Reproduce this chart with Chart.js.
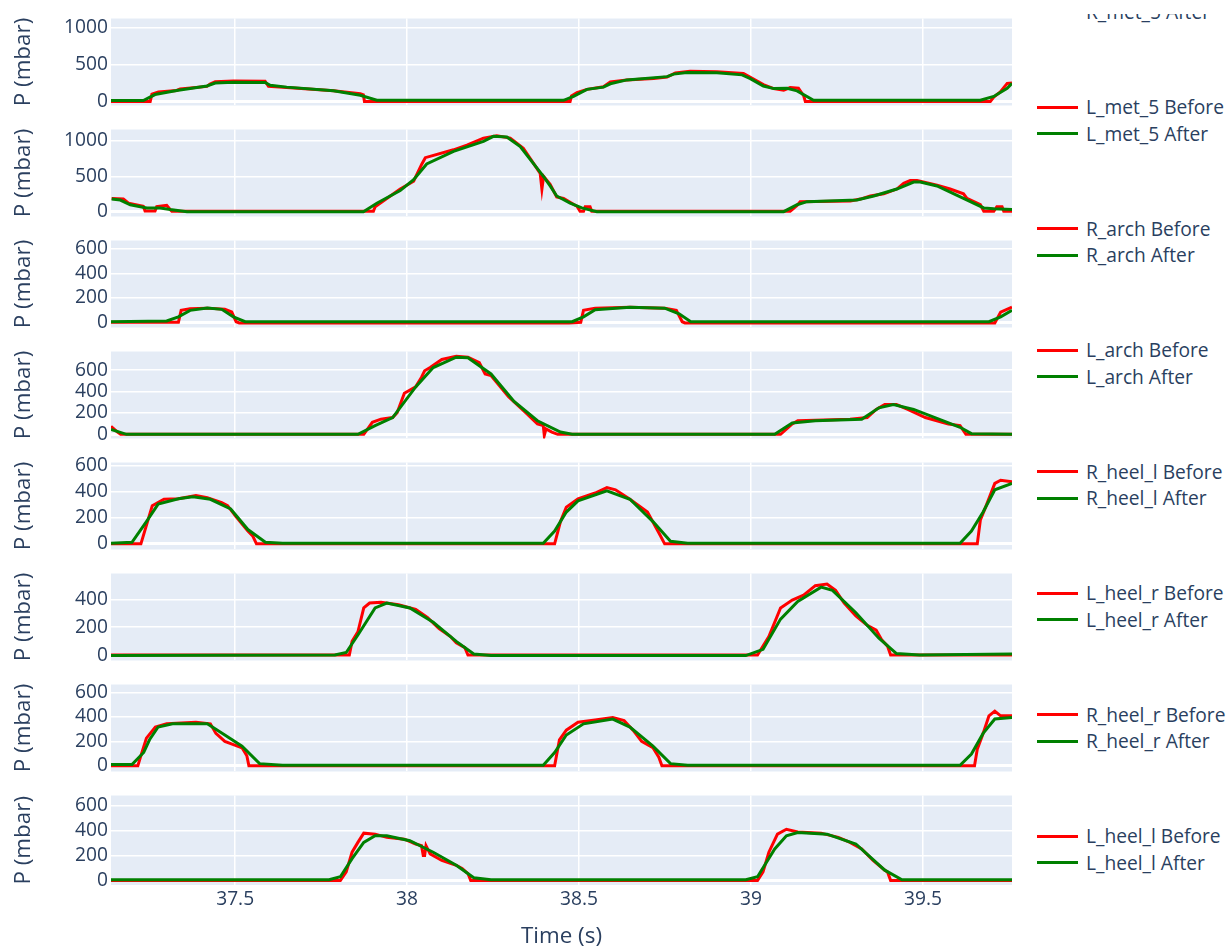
<!DOCTYPE html>
<html>
<head>
<meta charset="utf-8">
<script src="https://cdn.jsdelivr.net/npm/chart.js@4.4.0/dist/chart.umd.min.js"></script>
<style>
body{margin:0;background:#fff;width:1229px;height:946px;overflow:hidden;position:relative;font-family:"Open Sans",sans-serif;}
canvas{position:absolute;left:0;}
#legend{position:absolute;left:1030px;top:14px;width:199px;height:932px;overflow:hidden;}
.swatch{position:absolute;left:7px;width:41px;height:3px;}
.lab{position:absolute;left:56px;height:26px;line-height:26px;font-size:19.2px;color:#2a3f5f;white-space:nowrap;}
</style>
</head>
<body>
<div id="legend"></div>
<script>
// sensors shown top to bottom
const sensors = ['R_met_5','L_met_5','R_arch','L_arch','R_heel_l','L_heel_r','R_heel_r','L_heel_l']
const timeTicks = [37.5, 38, 38.5, 39, 39.5]
const timeRange = [37.139, 39.759]
const yRanges = [[-52,1118],[-68,1162],[-42,668],[-39,775],[-43,624],[-39,585],[-46,664],[-37,681]]
const yTicks = [[0,500,1000],[0,500,1000],[0,200,400,600],[0,200,400,600],[0,200,400,600],[0,200,400],[0,200,400,600],[0,200,400,600]]

// R_met_5
const rMet5BeforeT = [37.139,37.253,37.258,37.277,37.330,37.340,37.418,37.427,37.442,37.495,37.587,37.597,37.650,37.786,37.864,37.873,37.876,38.474,38.478,38.494,38.523,38.571,38.591,38.639,38.717,38.756,38.780,38.823,38.901,38.978,38.993,39.036,39.066,39.095,39.114,39.138,39.153,39.158,39.696,39.706,39.725,39.745,39.759]
const rMet5BeforeP = [3,3,100,129,150,170,205,235,268,278,275,205,190,145,105,90,3,3,75,120,165,200,265,292,310,330,385,408,402,380,340,230,175,155,190,180,80,3,3,60,130,245,250]
const rMet5AfterT = [37.139,37.233,37.267,37.330,37.418,37.442,37.495,37.587,37.602,37.650,37.786,37.864,37.912,38.455,38.484,38.523,38.571,38.591,38.639,38.756,38.775,38.814,38.901,38.974,38.998,39.036,39.066,39.105,39.134,39.182,39.667,39.706,39.745,39.759]
const rMet5AfterP = [15,15,95,150,210,250,262,258,220,195,145,85,18,18,70,165,195,240,292,336,370,393,388,360,310,210,175,180,145,18,18,70,180,245]

// L_met_5
const lMet5BeforeT = [37.141,37.175,37.190,37.233,37.238,37.267,37.272,37.301,37.311,37.316,37.902,37.907,37.941,37.980,38.019,38.043,38.053,38.135,38.174,38.222,38.261,38.300,38.338,38.387,38.392,38.397,38.416,38.435,38.455,38.494,38.503,38.513,38.518,38.532,38.537,39.114,39.134,39.143,39.289,39.318,39.347,39.386,39.424,39.444,39.463,39.483,39.541,39.579,39.618,39.628,39.667,39.677,39.706,39.715,39.730,39.735,39.759]
const lMet5BeforeP = [187,178,120,76,9,9,71,89,31,5,5,71,187,320,431,675,764,875,942,1040,1075,1040,898,542,320,500,387,209,187,76,5,5,71,71,5,5,89,142,151,178,222,253,320,400,440,440,373,320,253,187,98,5,5,71,71,5,5]
const lMet5AfterT = [37.141,37.166,37.195,37.243,37.282,37.311,37.360,37.873,37.912,37.980,38.019,38.057,38.135,38.222,38.251,38.290,38.329,38.397,38.416,38.435,38.474,38.508,38.552,39.095,39.134,39.163,39.308,39.357,39.424,39.473,39.492,39.541,39.618,39.677,39.706,39.759]
const lMet5AfterP = [178,164,98,53,53,31,0,0,120,298,453,675,853,995,1066,1057,920,497,364,222,120,53,0,0,98,142,164,222,320,418,418,364,187,53,40,30]

// R_arch
const rArchBeforeT = [37.139,37.335,37.343,37.369,37.419,37.470,37.490,37.503,37.512,38.471,38.505,38.513,38.547,38.648,38.749,38.783,38.800,38.808,39.709,39.726,39.759]
const rArchBeforeP = [0,0,98,111,116,106,84,5,-5,-5,0,98,116,124,116,98,5,-5,-5,84,124]
const rArchAfterT = [37.139,37.301,37.335,37.369,37.419,37.461,37.495,37.529,38.480,38.513,38.547,38.648,38.749,38.791,38.825,39.692,39.726,39.759]
const rArchAfterP = [5,11,45,98,116,106,45,5,5,45,103,124,116,70,5,5,45,98]

// L_arch
const lArchBeforeT = [37.139,37.158,37.167,37.874,37.899,37.924,37.958,37.971,37.992,38.025,38.042,38.051,38.067,38.101,38.143,38.177,38.210,38.227,38.244,38.295,38.345,38.379,38.396,38.399,38.404,38.421,38.438,39.086,39.120,39.136,39.288,39.338,39.364,39.389,39.423,39.456,39.507,39.574,39.608,39.625,39.759]
const lArchBeforeP = [75,21,0,0,112,142,157,202,384,444,535,595,625,701,731,722,670,565,550,353,202,97,82,-10,51,21,0,0,97,127,142,157,233,278,278,233,157,97,82,0,0]
const lArchAfterT = [37.139,37.184,37.857,37.907,37.958,38.025,38.076,38.143,38.177,38.244,38.311,38.379,38.446,38.480,39.069,39.120,39.187,39.322,39.372,39.414,39.473,39.608,39.641,39.759]
const lArchAfterP = [45,0,0,82,157,444,625,722,716,565,308,127,21,0,0,106,127,142,248,278,233,66,6,0]

// R_heel_l
const rHeelLBeforeT = [37.139,37.226,37.237,37.259,37.293,37.335,37.386,37.419,37.461,37.478,37.503,37.537,37.551,37.562,38.429,38.446,38.463,38.497,38.547,38.581,38.606,38.648,38.699,38.732,38.749,39.658,39.667,39.684,39.709,39.726,39.759]
const rHeelLBeforeP = [0,0,98,293,342,346,371,354,317,293,207,98,61,0,0,171,281,346,390,432,415,342,244,85,0,0,183,293,464,488,476]
const rHeelLAfterT = [37.139,37.200,37.242,37.276,37.335,37.377,37.428,37.487,37.537,37.588,37.638,38.396,38.429,38.463,38.497,38.581,38.648,38.715,38.766,38.816,39.608,39.641,39.675,39.709,39.759]
const rHeelLAfterP = [5,12,171,305,346,361,342,268,110,12,5,5,98,244,330,407,342,171,20,5,5,98,244,415,464]

// L_heel_r
const lHeelRBeforeT = [37.139,37.832,37.840,37.857,37.874,37.891,37.924,37.975,38.025,38.059,38.093,38.126,38.143,38.168,38.177,39.019,39.052,39.086,39.120,39.153,39.187,39.221,39.246,39.271,39.305,39.338,39.364,39.380,39.397,39.406,39.759]
const lHeelRBeforeP = [0,0,98,167,338,373,379,361,327,270,190,133,87,53,0,0,133,338,395,430,498,510,464,373,281,213,178,110,64,0,0]
const lHeelRAfterT = [37.139,37.790,37.823,37.857,37.907,37.941,38.008,38.076,38.143,38.194,38.244,38.985,39.035,39.086,39.136,39.204,39.237,39.305,39.372,39.423,39.490,39.759]
const lHeelRAfterP = [-4,0,18,144,338,373,338,235,98,7,-4,-4,41,258,384,487,464,304,121,11,0,7]

// R_heel_r
const rHeelRBeforeT = [37.139,37.217,37.226,37.242,37.268,37.301,37.386,37.428,37.444,37.470,37.495,37.520,37.534,37.540,38.429,38.443,38.463,38.497,38.547,38.598,38.631,38.657,38.682,38.715,38.732,38.741,39.650,39.658,39.675,39.692,39.709,39.726,39.759]
const rHeelRBeforeP = [0,0,83,226,317,343,356,343,265,200,174,148,83,0,0,213,291,356,374,395,369,291,200,148,70,0,0,135,265,408,447,408,408]
const rHeelRAfterT = [37.139,37.200,37.234,37.251,37.276,37.318,37.419,37.470,37.520,37.571,37.638,38.396,38.429,38.463,38.513,38.598,38.648,38.715,38.766,38.816,39.608,39.641,39.675,39.709,39.759]
const rHeelRAfterP = [10,10,109,213,317,343,343,252,161,18,5,5,109,252,343,382,317,161,18,5,5,96,265,382,395]

// L_heel_l
const lHeelLBeforeT = [37.139,37.806,37.823,37.840,37.857,37.874,37.907,37.941,37.992,38.025,38.042,38.047,38.051,38.055,38.067,38.101,38.143,38.160,38.177,38.185,39.019,39.035,39.052,39.077,39.103,39.136,39.204,39.254,39.288,39.322,39.355,39.389,39.397,39.406,39.759]
const lHeelLBeforeP = [0,0,68,226,305,379,371,345,331,292,279,200,200,279,213,160,121,95,55,0,0,68,226,371,410,389,379,345,305,252,160,82,68,0,0]
const lHeelLAfterT = [37.139,37.773,37.806,37.840,37.874,37.907,37.941,38.008,38.076,38.143,38.194,38.244,38.985,39.019,39.069,39.103,39.136,39.221,39.305,39.389,39.439,39.759]
const lHeelLAfterP = [5,5,29,174,305,358,358,318,226,121,21,5,5,29,252,358,384,371,292,82,5,5]

const beforeT = [rMet5BeforeT,lMet5BeforeT,rArchBeforeT,lArchBeforeT,rHeelLBeforeT,lHeelRBeforeT,rHeelRBeforeT,lHeelLBeforeT]
const beforeP = [rMet5BeforeP,lMet5BeforeP,rArchBeforeP,lArchBeforeP,rHeelLBeforeP,lHeelRBeforeP,rHeelRBeforeP,lHeelLBeforeP]
const afterT = [rMet5AfterT,lMet5AfterT,rArchAfterT,lArchAfterT,rHeelLAfterT,lHeelRAfterT,rHeelRAfterT,lHeelLAfterT]
const afterP = [rMet5AfterP,lMet5AfterP,rArchAfterP,lArchAfterP,rHeelLAfterP,lHeelRAfterP,rHeelRAfterP,lHeelLAfterP]

const textColor = '#2a3f5f'
const tickFont = {family: 'Open Sans', size: 19.2}
const titleFont = {family: 'Open Sans', size: 22.4}

function toXY(ts, ps){
    return ts.map((t, i) => ({x: t, y: ps[i]}))
}

const plotBg = {
    id: 'plotBg',
    beforeDraw(chart){
        const a = chart.chartArea
        chart.ctx.save()
        chart.ctx.fillStyle = '#e5ecf6'
        chart.ctx.fillRect(a.left, a.top, a.right - a.left, a.bottom - a.top)
        chart.ctx.restore()
    }
}

function renderPanel(i){
    const last = i == sensors.length - 1
    const top = Math.round(15.5 + 111.1 * i)
    const canvas = document.createElement('canvas')
    const canvasTop = top - 12
    const height = last ? 960 - canvasTop : 92 + 24
    canvas.width = 1014
    canvas.height = height
    canvas.style.top = canvasTop + 'px'
    document.body.appendChild(canvas)

    new Chart(canvas, {
        type: 'line',
        data: {
            datasets: [
                {label: sensors[i] + ' Before', data: toXY(beforeT[i], beforeP[i]), borderColor: '#ff0000', borderWidth: 3, order: 2},
                {label: sensors[i] + ' After', data: toXY(afterT[i], afterP[i]), borderColor: '#008000', borderWidth: 3, order: 1}
            ]
        },
        options: {
            responsive: false,
            animation: false,
            devicePixelRatio: 1,
            layout: {padding: {left: 0, right: 2, top: 12, bottom: last ? 0 : 12}},
            elements: {point: {radius: 0}, line: {tension: 0}},
            plugins: {legend: {display: false}, tooltip: {enabled: false}},
            scales: {
                x: {
                    type: 'linear',
                    min: timeRange[0],
                    max: timeRange[1],
                    afterBuildTicks: s => { s.ticks = timeTicks.map(v => ({value: v})) },
                    afterFit: s => { s.height = last ? 960 - 885 : 0 },
                    grid: {color: '#ffffff', lineWidth: 1.5, drawTicks: false},
                    border: {display: false},
                    ticks: {display: last, padding: 3, font: tickFont, color: textColor, maxRotation: 0, callback: v => String(v)},
                    title: {display: last, text: 'Time (s)', font: titleFont, color: textColor, padding: {top: 0, bottom: 10}}
                },
                y: {
                    min: yRanges[i][0],
                    max: yRanges[i][1],
                    afterBuildTicks: s => { s.ticks = yTicks[i].map(v => ({value: v})) },
                    afterFit: s => { s.width = 111 },
                    grid: {color: '#ffffff', lineWidth: c => (c.tick && c.tick.value == 0) ? 3 : 1.5, drawTicks: false},
                    border: {display: false},
                    ticks: {padding: 3, font: tickFont, color: textColor, callback: v => String(v)},
                    title: {display: true, text: 'P (mbar)', font: titleFont, color: textColor, padding: {top: 10, bottom: 0}}
                }
            }
        },
        plugins: [plotBg]
    })
}

function renderLegend(){
    const box = document.getElementById('legend')
    sensors.forEach((name, k) => {
        const yBefore = 107 + 121.5 * (k - 1) - 14
        const rows = [[name + ' Before', '#ff0000', yBefore], [name + ' After', '#008000', yBefore + 26.7]]
        rows.forEach(r => {
            const sw = document.createElement('div')
            sw.className = 'swatch'
            sw.style.background = r[1]
            sw.style.top = (r[2] - 1.5) + 'px'
            box.appendChild(sw)
            const lab = document.createElement('div')
            lab.className = 'lab'
            lab.style.top = (r[2] - 13) + 'px'
            lab.textContent = r[0]
            box.appendChild(lab)
        })
    })
}

for (let i = 0; i < sensors.length; i++) renderPanel(i)
renderLegend()
</script>
</body>
</html>
